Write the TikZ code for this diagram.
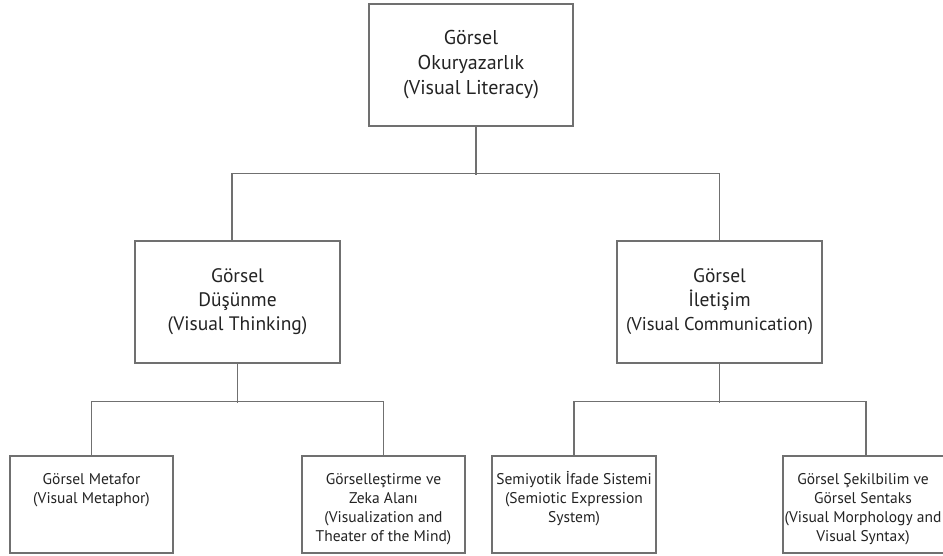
\documentclass[tikz,border=0pt]{standalone}
\usepackage{fontspec}
\setmainfont{PT Sans}
\definecolor{linegray}{RGB}{112,112,112}
\definecolor{txtgray}{RGB}{35,35,35}
\newcommand{\firststrut}{\rule{0pt}{15pt}}
\begin{document}
\begin{tikzpicture}[x=1pt,y=-1pt,
  boxbig/.style={draw=linegray, line width=1.2pt, rectangle, inner sep=0pt,
    minimum width=205pt, minimum height=122pt, align=center, text=txtgray,
    font=\fontsize{19.5}{24}\selectfont},
  boxsmall/.style={draw=linegray, line width=1.2pt, rectangle, inner sep=0pt,
    minimum width=164pt, minimum height=97pt},
  boxtext/.style={anchor=north, yshift=-14pt, inner sep=0pt, align=center,
    text=txtgray, font=\fontsize{15.5}{19}\selectfont},
  conn/.style={draw=linegray, line width=1.2pt}]
\useasboundingbox (0,0) rectangle (943,555);
\fill[white] (0,0) rectangle (943,555);

\node[boxbig, minimum width=204pt, font=\fontsize{20}{25}\selectfont] (vl) at (471,65) {Görsel\\Okuryazarlık\\(Visual Literacy)};
\node[boxbig] (vt) at (237.5,302) {Görsel\\Düşünme\\(Visual Thinking)};
\node[boxbig] (vc) at (719.5,302) {Görsel\\İletişim\\{\fontsize{18.5}{24}\selectfont(Visual Communication)}};

\node[boxsmall, minimum width=163pt,
  label={[boxtext]north:\firststrut Görsel Metafor\\(Visual Metaphor)}] (b1) at (91.5,504.5) {};
\node[boxsmall, minimum width=163pt,
  label={[boxtext]north:\firststrut Görselleştirme ve\\Zeka Alanı\\(Visualization and\\Theater of the Mind)}] (b2) at (383.5,504.5) {};
\node[boxsmall,
  label={[boxtext]north:\firststrut Semiyotik İfade Sistemi\\(Semiotic Expression\\System)}] (b3) at (574,504.5) {};
\node[boxsmall, minimum width=166pt,
  label={[boxtext, xshift=-3pt]north:\firststrut Görsel Şekilbilim ve\\Görsel Sentaks\\(Visual Morphology and\\Visual Syntax)}] (b4) at (866,504.5) {};

\draw[conn] ([xshift=5pt]vl.south) -- ++(0,48);
\draw[conn] ([xshift=-5.5pt]vt.north) -- ++(0,-67) -| (vc.north);
\draw[conn] (vt.south) -- ++(0,39);
\draw[conn] (b1.north) -- ++(0,-54) -| (b2.north);
\draw[conn] (vc.south) -- ++(0,39);
\draw[conn] (b3.north) -- ++(0,-54) -| (b4.north);
\end{tikzpicture}
\end{document}
